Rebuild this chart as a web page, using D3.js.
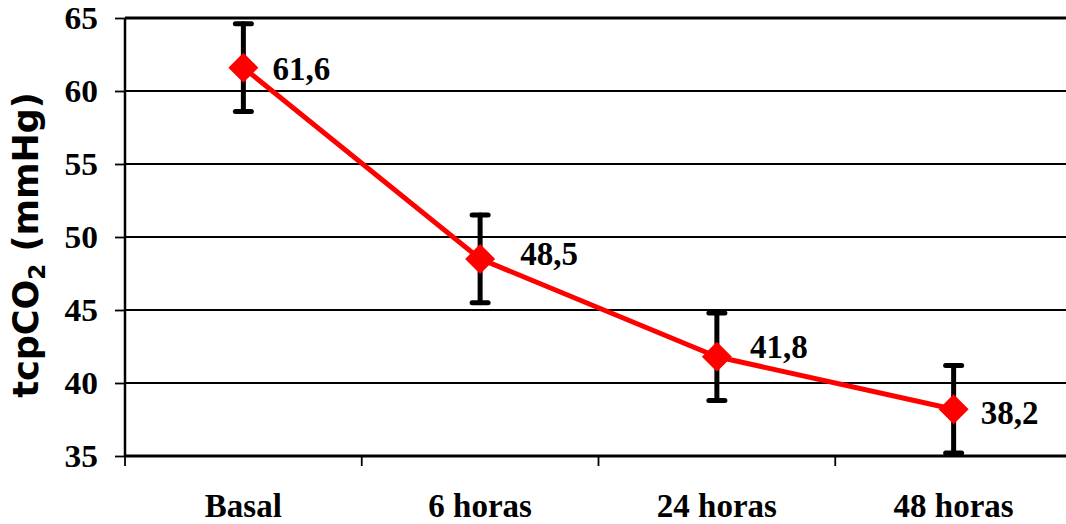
<!DOCTYPE html>
<html>
<head>
<meta charset="utf-8">
<script src="https://cdn.jsdelivr.net/npm/d3@7/dist/d3.min.js"></script>
<style>
  html, body { margin: 0; padding: 0; background: #fff; }
  svg { display: block; }
</style>
</head>
<body>
<svg id="chart" width="1066" height="524"></svg>
<script>
// ---- data ----
const categories = ["Basal", "6 horas", "24 horas", "48 horas"];
const means = [61.6, 48.5, 41.8, 38.2];
const sds = [3.0, 3.0, 3.0, 3.0];
const valueLabels = ["61,6", "48,5", "41,8", "38,2"];
const yTicks = [35, 40, 45, 50, 55, 60, 65];
const yTitle = "tcpCO";
// label nudges (dx, dy) in px
const labelDx = [29, 40, 33, 27];
const labelDy = [12, 6, 1, 15];

(function () {
const svg = d3.select("#chart");
const pLeft = 125, pRight = 1072, pTop = 18, pBottom = 456;

const x = d3.scaleBand().domain(categories).range([pLeft, pRight]).padding(0);
const y = d3.scaleLinear().domain([35, 65]).range([pBottom, pTop]);
const cx = d => x(d) + x.bandwidth() / 2;

const serif = "'Liberation Serif', 'Times New Roman', serif";

// gridlines
svg.append("g").selectAll("line").data(yTicks.filter(t => t !== 35)).join("line")
  .attr("x1", pLeft).attr("x2", 1066)
  .attr("y1", d => y(d)).attr("y2", d => y(d))
  .attr("stroke", "#000")
  .attr("stroke-width", d => d === 65 ? 3 : 1.8);

// y axis (line + ticks)
const yAxis = d3.axisLeft(y).tickValues(yTicks).tickSize(10).tickFormat("");
const gy = svg.append("g").attr("transform", `translate(${pLeft},0)`).call(yAxis);
gy.select(".domain").attr("stroke", "#000").attr("stroke-width", 2.5).attr("d", `M0,${pTop}V${pBottom}`);
gy.selectAll(".tick line").attr("stroke", "#000").attr("stroke-width", 1.8);
// y tick labels
svg.append("g").selectAll("text").data(yTicks).join("text")
  .attr("transform", d => `translate(98,${y(d) + 11}) scale(1.08,1)`)
  .attr("text-anchor", "end")
  .style("font-family", serif).style("font-weight", "bold").style("font-size", "31px")
  .style("fill", "#000")
  .text(d => d);

// x axis
const xAxis = d3.axisBottom(x).tickSize(0).tickPadding(0).tickFormat("");
const gx = svg.append("g").attr("transform", `translate(0,${pBottom})`).call(xAxis);
gx.select(".domain").attr("stroke", "#000").attr("stroke-width", 3).attr("d", `M${pLeft},0H1066`);
// category boundary ticks
svg.append("g").selectAll("line").data(categories).join("line")
  .attr("x1", d => x(d)).attr("x2", d => x(d))
  .attr("y1", pBottom).attr("y2", pBottom + 10)
  .attr("stroke", "#000").attr("stroke-width", 1.8);
// category labels
svg.append("g").selectAll("text").data(categories).join("text")
  .attr("x", d => cx(d)).attr("y", 517)
  .attr("text-anchor", "middle")
  .style("font-family", serif).style("font-weight", "bold").style("font-size", "33px")
  .style("fill", "#000")
  .text(d => d);

// y title
const tt = svg.append("text")
  .attr("transform", "translate(38,245) rotate(-90)")
  .attr("text-anchor", "middle")
  .style("font-family", "'DejaVu Sans', Verdana, sans-serif")
  .style("font-weight", "bold").style("font-size", "35px").style("fill", "#000");
tt.append("tspan").text(yTitle);
tt.append("tspan").style("font-size", "23px").attr("dy", 7).text("2");
tt.append("tspan").attr("dy", -7).text(" (mmHg)");

const data = categories.map((c, i) => ({ c, m: means[i], s: sds[i], lab: valueLabels[i], dx: labelDx[i], dy: labelDy[i] }));

// error bars
const eb = svg.append("g").attr("stroke", "#000").attr("stroke-width", 5).attr("stroke-linecap", "round");
eb.selectAll("line.stem").data(data).join("line").attr("class", "stem")
  .attr("x1", d => cx(d.c)).attr("x2", d => cx(d.c))
  .attr("y1", d => y(d.m - d.s)).attr("y2", d => y(d.m + d.s));
eb.selectAll("line.capt").data(data).join("line").attr("class", "capt")
  .attr("x1", d => cx(d.c) - 8).attr("x2", d => cx(d.c) + 8)
  .attr("y1", d => y(d.m + d.s)).attr("y2", d => y(d.m + d.s));
eb.selectAll("line.capb").data(data).join("line").attr("class", "capb")
  .attr("x1", d => cx(d.c) - 8).attr("x2", d => cx(d.c) + 8)
  .attr("y1", d => y(d.m - d.s)).attr("y2", d => y(d.m - d.s));

// line
svg.append("path").datum(data)
  .attr("fill", "none").attr("stroke", "#ff0000").attr("stroke-width", 5)
  .attr("stroke-linejoin", "round")
  .attr("d", d3.line().x(d => cx(d.c)).y(d => y(d.m)));

// markers
const r = 15;
svg.append("g").selectAll("path").data(data).join("path")
  .attr("transform", d => `translate(${cx(d.c)},${y(d.m)})`)
  .attr("d", `M0,${-r}L${r},0L0,${r}L${-r},0Z`)
  .attr("fill", "#ff0000");

// value labels
svg.append("g").selectAll("text").data(data).join("text")
  .attr("x", d => cx(d.c) + d.dx).attr("y", d => y(d.m) + d.dy)
  .style("font-family", serif).style("font-weight", "bold").style("font-size", "33px")
  .style("fill", "#000")
  .text(d => d.lab);
})();
</script>
</body>
</html>
